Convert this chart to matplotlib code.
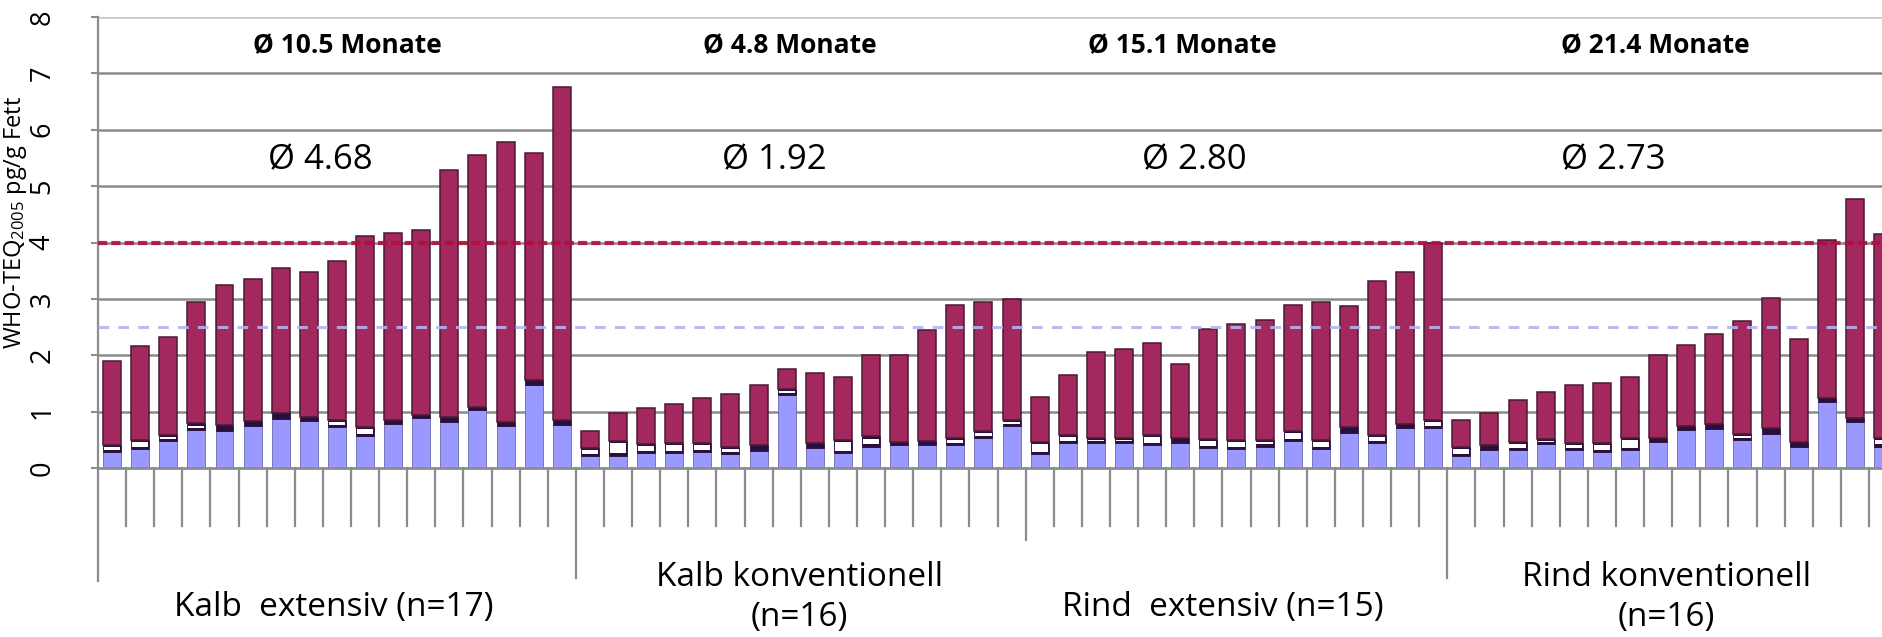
import numpy as np
import matplotlib.pyplot as plt

plt.rcParams['font.family'] = ['Open Sans', 'DejaVu Sans']
plt.rcParams['mathtext.default'] = 'regular'

# Gruppen (Anzahl Proben je Gruppe)
groups = ["Kalb  extensiv (n=17)", "Kalb konventionell\n(n=16)",
          "Rind  extensiv (n=15)", "Rind konventionell\n(n=16)"]
age_labels = ["Ø 10.5 Monate", "Ø 4.8 Monate", "Ø 15.1 Monate", "Ø 21.4 Monate"]
mean_labels = ["Ø 4.68", "Ø 1.92", "Ø 2.80", "Ø 2.73"]

# Summe WHO-TEQ je Probe (pg/g Fett)
kalb_ext_total = [1.89, 2.16, 2.32, 2.95, 3.25, 3.35, 3.54, 3.48, 3.68, 4.12, 4.16, 4.22, 5.28, 5.55, 5.79, 5.58, 6.75]
kalb_konv_total = [0.66, 0.98, 1.07, 1.13, 1.25, 1.32, 1.48, 1.76, 1.69, 1.61, 2.01, 2.01, 2.44, 2.89, 2.95, 3.00]
rind_ext_total = [1.26, 1.65, 2.05, 2.11, 2.22, 1.85, 2.47, 2.55, 2.62, 2.89, 2.94, 2.87, 3.32, 3.48, 4.00]
rind_konv_total = [0.85, 0.97, 1.21, 1.34, 1.48, 1.51, 1.62, 2.01, 2.19, 2.38, 2.60, 3.01, 2.29, 4.05, 4.78, 4.15]

# unterster (blauer) Anteil
kalb_ext_blue = [0.29, 0.34, 0.48, 0.68, 0.66, 0.74, 0.87, 0.84, 0.72, 0.56, 0.78, 0.88, 0.82, 1.03, 0.75, 1.47, 0.76]
kalb_konv_blue = [0.21, 0.22, 0.26, 0.26, 0.28, 0.24, 0.31, 1.29, 0.35, 0.26, 0.38, 0.40, 0.41, 0.41, 0.53, 0.74]
rind_ext_blue = [0.24, 0.44, 0.44, 0.44, 0.41, 0.44, 0.36, 0.34, 0.38, 0.48, 0.34, 0.62, 0.44, 0.71, 0.71]
rind_konv_blue = [0.21, 0.32, 0.32, 0.42, 0.32, 0.29, 0.32, 0.47, 0.68, 0.70, 0.50, 0.61, 0.38, 1.17, 0.82, 0.38]

# Oberkante der kleinen Zwischenanteile (darueber: roter Anteil)
kalb_ext_low = [0.41, 0.50, 0.59, 0.79, 0.76, 0.83, 0.97, 0.91, 0.85, 0.73, 0.85, 0.94, 0.91, 1.09, 0.82, 1.56, 0.86]
kalb_konv_low = [0.36, 0.48, 0.42, 0.44, 0.44, 0.38, 0.41, 1.41, 0.44, 0.50, 0.56, 0.47, 0.48, 0.54, 0.65, 0.85]
rind_ext_low = [0.47, 0.59, 0.54, 0.54, 0.58, 0.53, 0.52, 0.50, 0.50, 0.65, 0.50, 0.72, 0.58, 0.78, 0.85]
rind_konv_low = [0.38, 0.41, 0.47, 0.52, 0.44, 0.44, 0.54, 0.54, 0.74, 0.78, 0.61, 0.71, 0.47, 1.24, 0.89, 0.54]

limit_red = 4.0
limit_blue = 2.5

total = np.array(kalb_ext_total + kalb_konv_total + rind_ext_total + rind_konv_total)
blue = np.array(kalb_ext_blue + kalb_konv_blue + rind_ext_blue + rind_konv_blue)
low = np.array(kalb_ext_low + kalb_konv_low + rind_ext_low + rind_konv_low)
sizes = [len(kalb_ext_total), len(kalb_konv_total), len(rind_ext_total), len(rind_konv_total)]
x = np.arange(len(total))

fig = plt.figure(figsize=(18.83, 6.37), dpi=100)
ax = fig.add_axes([98 / 1883, 169 / 637, 1785 / 1883, 451 / 637])
ax.set_xlim(-0.5, 63.0)
ax.set_ylim(0, 8)

# Gitter
for yv in range(1, 8):
    ax.axhline(yv, color='#8a8a8a', lw=1.8, zorder=0)
ax.axhline(8, color='#c8c8c8', lw=1.8, zorder=0)

w = 0.64
ax.bar(x, blue, width=w, color='#9999ff', edgecolor='#6a6aa8', lw=0.6, zorder=2)
ax.bar(x, low - blue, width=w, bottom=blue, color='#2a0e3c', edgecolor='#2a0e3c', lw=0.6, zorder=2)
mid = low - blue
wide = mid > 0.1
ax.bar(x[wide], mid[wide] - 0.075, width=w * 0.9, bottom=blue[wide] + 0.0375,
       color='#ffffff', lw=0, zorder=3)
ax.bar(x, total - low, width=w, bottom=low, color='#a3285e', edgecolor='#4a1a36', lw=1.1, zorder=2)

# Richt-/Auslösewerte
ax.axhline(limit_red, color='#b01040', lw=3.0, ls=(0, (2.2, 1.0)), zorder=4, alpha=0.9)
ax.axhline(limit_blue, color='#b4b4ee', lw=2.2, ls=(0, (3.5, 3.0)), zorder=4, alpha=0.9)

# Achsen
for s in ['top', 'right']:
    ax.spines[s].set_visible(False)
ax.spines['left'].set_color('#8c8c8c')
ax.spines['left'].set_linewidth(1.6)
ax.spines['bottom'].set_color('#8c8c8c')
ax.spines['bottom'].set_linewidth(2.0)
ax.spines['bottom'].set_zorder(5)
ax.set_xticks([])
ax.set_yticks(range(9))
ax.tick_params(axis='y', length=5, color='#8c8c8c', width=1.5, labelsize=19.5,
               labelrotation=90, pad=25)
for lab in ax.get_yticklabels():
    lab.set_va('center')
ax.set_ylabel('WHO-TEQ$_{2005}$ pg/g Fett', fontsize=17)
ax.yaxis.set_label_coords(-0.0385, 0.545)

# Kategorienachse mit Gruppen
bounds = np.cumsum([0] + sizes) - 0.5
sep_len = [2.0, 1.95, 1.28, 1.95]
for k in range(len(total) + 1):
    b = k - 0.5
    if b in bounds[:-1]:
        i = list(bounds).index(b)
        ax.plot([b, b], [0, -sep_len[i]], color='#8c8c8c', lw=1.6, clip_on=False)
    elif b < 63.0:
        ax.plot([b, b], [0, -1.03], color='#8c8c8c', lw=1.6, clip_on=False)

group_x = [7.88, 24.46, 39.5, 55.3]
group_y = [-2.48, -2.3, -2.48, -2.3]
for gx, gy, txt in zip(group_x, group_y, groups):
    ax.text(gx, gy, txt, ha='center', va='center', fontsize=24, linespacing=1.3, clip_on=False)

age_x = [8.38, 24.1, 38.07, 54.9]
for ax_, txt in zip(age_x, age_labels):
    ax.text(ax_, 7.5, txt, ha='center', va='center', fontsize=19, fontweight='bold')

mean_x = [7.41, 23.56, 38.5, 53.4]
for mx, txt in zip(mean_x, mean_labels):
    ax.text(mx, 5.45, txt, ha='center', va='center', fontsize=25)

fig.savefig('out.png', dpi=100)
